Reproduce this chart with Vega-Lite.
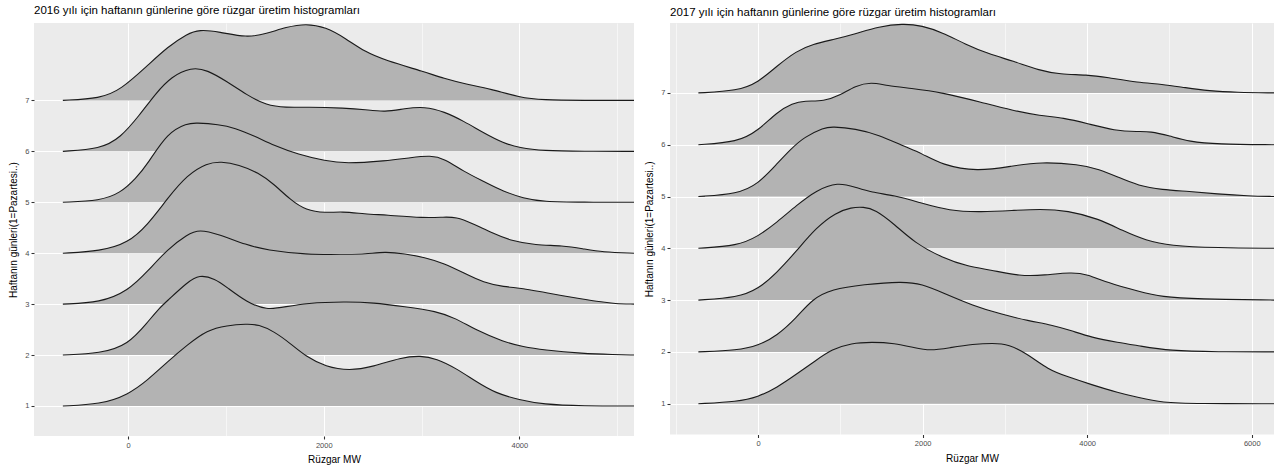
{
  "$schema": "https://vega.github.io/schema/vega-lite/v6.json",
  "padding": {"left": 8, "top": 4, "right": 0, "bottom": 0},
  "background": "white",
  "spacing": 10,
  "config": {
    "font": "Liberation Sans",
    "view": {"fill": "#EBEBEB", "stroke": null},
    "area": {"opacity": 1, "fillOpacity": 1},
    "axis": {"domain": false, "grid": true, "gridColor": "#FFFFFF", "gridWidth": 1.07, "tickColor": "#333333", "tickWidth": 1.07, "tickSize": 3, "labelColor": "#4D4D4D", "labelFontSize": 7.5, "labelPadding": 2, "titleColor": "#000000", "titleFontSize": 10, "titleFontWeight": "normal", "titlePadding": 6},
    "title": {"anchor": "start", "frame": "group", "fontSize": 11.5, "fontWeight": "normal", "color": "#000000"}
  },
  "datasets": {
    "y2016_7": [{"mw":-667,"y":7},{"mw":-283,"y":7.04},{"mw":-81,"y":7.2},{"mw":202,"y":7.69},{"mw":404,"y":8.05},{"mw":606,"y":8.31},{"mw":727,"y":8.39},{"mw":929,"y":8.35},{"mw":1212,"y":8.23},{"mw":1414,"y":8.31},{"mw":1616,"y":8.44},{"mw":1818,"y":8.51},{"mw":2020,"y":8.44},{"mw":2222,"y":8.22},{"mw":2424,"y":7.95},{"mw":2626,"y":7.79},{"mw":3030,"y":7.56},{"mw":3232,"y":7.43},{"mw":3434,"y":7.33},{"mw":3717,"y":7.22},{"mw":4000,"y":7.06},{"mw":4242,"y":7.007},{"mw":4646,"y":7},{"mw":5172,"y":7}],
    "y2016_6": [{"mw":-667,"y":6},{"mw":-283,"y":6.05},{"mw":-81,"y":6.26},{"mw":121,"y":6.72},{"mw":283,"y":7.14},{"mw":444,"y":7.47},{"mw":646,"y":7.65},{"mw":808,"y":7.6},{"mw":1010,"y":7.37},{"mw":1212,"y":7.11},{"mw":1414,"y":6.9},{"mw":1616,"y":6.86},{"mw":1818,"y":6.87},{"mw":2222,"y":6.85},{"mw":2424,"y":6.82},{"mw":2626,"y":6.77},{"mw":2828,"y":6.84},{"mw":3030,"y":6.88},{"mw":3232,"y":6.78},{"mw":3434,"y":6.59},{"mw":3636,"y":6.36},{"mw":3838,"y":6.16},{"mw":4000,"y":6.07},{"mw":4242,"y":6.01},{"mw":4646,"y":6},{"mw":5172,"y":6}],
    "y2016_5": [{"mw":-667,"y":5},{"mw":-283,"y":5.03},{"mw":-81,"y":5.18},{"mw":81,"y":5.47},{"mw":202,"y":5.76},{"mw":404,"y":6.37},{"mw":606,"y":6.55},{"mw":687,"y":6.56},{"mw":929,"y":6.53},{"mw":1091,"y":6.46},{"mw":1293,"y":6.3},{"mw":1495,"y":6.11},{"mw":1737,"y":5.94},{"mw":2020,"y":5.81},{"mw":2222,"y":5.76},{"mw":2626,"y":5.81},{"mw":2900,"y":5.88},{"mw":3091,"y":5.92},{"mw":3232,"y":5.86},{"mw":3434,"y":5.6},{"mw":3636,"y":5.41},{"mw":3838,"y":5.21},{"mw":4040,"y":5.08},{"mw":4242,"y":5.01},{"mw":4646,"y":5},{"mw":5172,"y":5}],
    "y2016_4": [{"mw":-667,"y":4},{"mw":-283,"y":4.04},{"mw":0,"y":4.2},{"mw":202,"y":4.56},{"mw":404,"y":5.08},{"mw":606,"y":5.54},{"mw":808,"y":5.77},{"mw":949,"y":5.8},{"mw":1131,"y":5.74},{"mw":1333,"y":5.58},{"mw":1495,"y":5.35},{"mw":1657,"y":5.05},{"mw":1818,"y":4.84},{"mw":2020,"y":4.79},{"mw":2182,"y":4.82},{"mw":2424,"y":4.77},{"mw":2626,"y":4.75},{"mw":3030,"y":4.69},{"mw":3232,"y":4.71},{"mw":3353,"y":4.71},{"mw":3515,"y":4.59},{"mw":3717,"y":4.4},{"mw":3919,"y":4.24},{"mw":4162,"y":4.16},{"mw":4444,"y":4.15},{"mw":4646,"y":4.09},{"mw":4848,"y":4.02},{"mw":5172,"y":4}],
    "y2016_3": [{"mw":-667,"y":3},{"mw":-283,"y":3.03},{"mw":0,"y":3.26},{"mw":202,"y":3.65},{"mw":404,"y":4.08},{"mw":606,"y":4.37},{"mw":727,"y":4.47},{"mw":929,"y":4.37},{"mw":1212,"y":4.16},{"mw":1414,"y":4.06},{"mw":1818,"y":3.97},{"mw":2222,"y":3.98},{"mw":2424,"y":3.98},{"mw":2626,"y":4.03},{"mw":2828,"y":3.99},{"mw":3030,"y":3.92},{"mw":3232,"y":3.8},{"mw":3434,"y":3.61},{"mw":3636,"y":3.42},{"mw":3838,"y":3.34},{"mw":4040,"y":3.31},{"mw":4242,"y":3.23},{"mw":4646,"y":3.1},{"mw":4848,"y":3.04},{"mw":4970,"y":3.01},{"mw":5172,"y":3}],
    "y2016_2": [{"mw":-667,"y":2},{"mw":-283,"y":2.03},{"mw":0,"y":2.2},{"mw":202,"y":2.65},{"mw":323,"y":2.93},{"mw":404,"y":3.07},{"mw":606,"y":3.43},{"mw":727,"y":3.58},{"mw":889,"y":3.5},{"mw":1010,"y":3.33},{"mw":1212,"y":3.04},{"mw":1414,"y":2.88},{"mw":1616,"y":2.95},{"mw":1818,"y":3.02},{"mw":2222,"y":3.05},{"mw":2505,"y":3.03},{"mw":2828,"y":2.95},{"mw":3152,"y":2.86},{"mw":3353,"y":2.72},{"mw":3556,"y":2.49},{"mw":3838,"y":2.26},{"mw":4040,"y":2.16},{"mw":4242,"y":2.1},{"mw":4646,"y":2.03},{"mw":4970,"y":2.01},{"mw":5172,"y":2}],
    "y2016_1": [{"mw":-667,"y":1},{"mw":-283,"y":1.03},{"mw":0,"y":1.22},{"mw":202,"y":1.51},{"mw":404,"y":1.87},{"mw":606,"y":2.2},{"mw":808,"y":2.49},{"mw":1010,"y":2.58},{"mw":1212,"y":2.61},{"mw":1333,"y":2.6},{"mw":1495,"y":2.46},{"mw":1657,"y":2.23},{"mw":1818,"y":1.97},{"mw":2020,"y":1.77},{"mw":2263,"y":1.69},{"mw":2505,"y":1.77},{"mw":2788,"y":1.95},{"mw":2990,"y":1.99},{"mw":3152,"y":1.93},{"mw":3353,"y":1.74},{"mw":3556,"y":1.48},{"mw":3758,"y":1.25},{"mw":4000,"y":1.12},{"mw":4242,"y":1.03},{"mw":4646,"y":1},{"mw":5172,"y":1}],
    "y2017_7": [{"mw":-725,"y":7},{"mw":-248,"y":7.04},{"mw":0,"y":7.2},{"mw":229,"y":7.52},{"mw":468,"y":7.81},{"mw":659,"y":7.94},{"mw":945,"y":8.04},{"mw":1184,"y":8.14},{"mw":1470,"y":8.28},{"mw":1756,"y":8.34},{"mw":1995,"y":8.3},{"mw":2234,"y":8.17},{"mw":2520,"y":7.94},{"mw":2806,"y":7.75},{"mw":3093,"y":7.62},{"mw":3427,"y":7.43},{"mw":3666,"y":7.36},{"mw":4000,"y":7.35},{"mw":4238,"y":7.3},{"mw":4620,"y":7.2},{"mw":4907,"y":7.17},{"mw":5193,"y":7.1},{"mw":5479,"y":7.04},{"mw":5813,"y":7.01},{"mw":6270,"y":7}],
    "y2017_6": [{"mw":-725,"y":6},{"mw":-248,"y":6.05},{"mw":0,"y":6.27},{"mw":229,"y":6.63},{"mw":420,"y":6.8},{"mw":563,"y":6.85},{"mw":802,"y":6.84},{"mw":993,"y":6.95},{"mw":1184,"y":7.14},{"mw":1375,"y":7.21},{"mw":1566,"y":7.14},{"mw":1852,"y":7.09},{"mw":2234,"y":7.01},{"mw":2711,"y":6.82},{"mw":3093,"y":6.66},{"mw":3427,"y":6.56},{"mw":3713,"y":6.52},{"mw":4000,"y":6.41},{"mw":4334,"y":6.27},{"mw":4620,"y":6.25},{"mw":4763,"y":6.26},{"mw":5002,"y":6.17},{"mw":5241,"y":6.06},{"mw":5575,"y":6.01},{"mw":6270,"y":6}],
    "y2017_5": [{"mw":-725,"y":5},{"mw":-248,"y":5.05},{"mw":0,"y":5.24},{"mw":229,"y":5.63},{"mw":400,"y":5.92},{"mw":563,"y":6.15},{"mw":802,"y":6.33},{"mw":897,"y":6.35},{"mw":1184,"y":6.31},{"mw":1470,"y":6.19},{"mw":1756,"y":5.98},{"mw":1995,"y":5.83},{"mw":2234,"y":5.61},{"mw":2664,"y":5.48},{"mw":3093,"y":5.59},{"mw":3427,"y":5.67},{"mw":3904,"y":5.62},{"mw":4143,"y":5.53},{"mw":4381,"y":5.37},{"mw":4620,"y":5.21},{"mw":4907,"y":5.13},{"mw":5241,"y":5.1},{"mw":5575,"y":5.05},{"mw":5957,"y":5.01},{"mw":6270,"y":5}],
    "y2017_4": [{"mw":-725,"y":4},{"mw":-248,"y":4.05},{"mw":0,"y":4.23},{"mw":229,"y":4.5},{"mw":468,"y":4.83},{"mw":707,"y":5.12},{"mw":969,"y":5.28},{"mw":1184,"y":5.18},{"mw":1375,"y":5.08},{"mw":1661,"y":5.02},{"mw":1947,"y":4.89},{"mw":2329,"y":4.72},{"mw":2711,"y":4.7},{"mw":3093,"y":4.73},{"mw":3427,"y":4.76},{"mw":3761,"y":4.73},{"mw":4143,"y":4.57},{"mw":4429,"y":4.34},{"mw":4715,"y":4.15},{"mw":5002,"y":4.05},{"mw":5575,"y":4.01},{"mw":6270,"y":4}],
    "y2017_3": [{"mw":-725,"y":3},{"mw":-248,"y":3.05},{"mw":0,"y":3.21},{"mw":229,"y":3.53},{"mw":468,"y":3.95},{"mw":707,"y":4.4},{"mw":945,"y":4.69},{"mw":1136,"y":4.79},{"mw":1279,"y":4.8},{"mw":1422,"y":4.75},{"mw":1661,"y":4.46},{"mw":1900,"y":4.11},{"mw":2234,"y":3.82},{"mw":2568,"y":3.64},{"mw":2806,"y":3.59},{"mw":3188,"y":3.46},{"mw":3475,"y":3.48},{"mw":3809,"y":3.54},{"mw":4000,"y":3.5},{"mw":4238,"y":3.34},{"mw":4620,"y":3.17},{"mw":4907,"y":3.06},{"mw":5336,"y":3.02},{"mw":6270,"y":3}],
    "y2017_2": [{"mw":-725,"y":2},{"mw":-248,"y":2.03},{"mw":0,"y":2.12},{"mw":229,"y":2.31},{"mw":468,"y":2.66},{"mw":659,"y":3.02},{"mw":897,"y":3.21},{"mw":1279,"y":3.3},{"mw":1756,"y":3.36},{"mw":1995,"y":3.31},{"mw":2234,"y":3.15},{"mw":2616,"y":2.89},{"mw":2950,"y":2.73},{"mw":3284,"y":2.6},{"mw":3570,"y":2.52},{"mw":3809,"y":2.41},{"mw":4047,"y":2.28},{"mw":4381,"y":2.18},{"mw":4620,"y":2.12},{"mw":5002,"y":2.02},{"mw":5575,"y":2},{"mw":6270,"y":2}],
    "y2017_1": [{"mw":-725,"y":1},{"mw":-248,"y":1.04},{"mw":0,"y":1.13},{"mw":229,"y":1.31},{"mw":468,"y":1.57},{"mw":707,"y":1.84},{"mw":897,"y":2.05},{"mw":1136,"y":2.17},{"mw":1375,"y":2.19},{"mw":1661,"y":2.17},{"mw":1900,"y":2.08},{"mw":2091,"y":2.02},{"mw":2329,"y":2.08},{"mw":2616,"y":2.15},{"mw":2854,"y":2.17},{"mw":3045,"y":2.15},{"mw":3284,"y":1.95},{"mw":3523,"y":1.66},{"mw":3761,"y":1.52},{"mw":4047,"y":1.37},{"mw":4381,"y":1.21},{"mw":4620,"y":1.12},{"mw":4907,"y":1.02},{"mw":5336,"y":1},{"mw":6270,"y":1}]
  },
  "hconcat": [
    {
      "width": 600,
      "height": 413,
      "title": {"text": "2016 yılı için haftanın günlerine göre rüzgar üretim histogramları", "offset": 7},
      "encoding": {
        "x": {"field": "mw", "type": "quantitative", "scale": {"domain": [-962, 5172], "nice": false, "zero": false},
              "axis": {"values": [0, 1000, 2000, 3000, 4000, 5000], "format": "d", "title": "Rüzgar MW",
                       "labelExpr": "datum.value % 2000 === 0 ? datum.label : ''",
                       "gridWidth": {"condition": {"test": "datum.value % 2000 === 0", "value": 1.07}, "value": 0.55},
                       "tickOpacity": {"condition": {"test": "datum.value % 2000 === 0", "value": 1}, "value": 0}}},
        "y": {"field": "y", "type": "quantitative", "scale": {"domain": [0.41, 8.52], "nice": false, "zero": false},
              "axis": {"values": [1, 2, 3, 4, 5, 6, 7], "format": "d", "title": "Haftanın günleri(1=Pazartesi..)"}}
      },
      "layer": [
        {"data": {"name": "y2016_7"}, "mark": {"type": "area", "interpolate": "basis", "fill": "#B3B3B3", "opacity": 1, "clip": true, "line": {"stroke": "#1A1A1A", "strokeWidth": 1.1}}, "encoding": {"y2": {"datum": 7}}},
        {"data": {"name": "y2016_6"}, "mark": {"type": "area", "interpolate": "basis", "fill": "#B3B3B3", "opacity": 1, "clip": true, "line": {"stroke": "#1A1A1A", "strokeWidth": 1.1}}, "encoding": {"y2": {"datum": 6}}},
        {"data": {"name": "y2016_5"}, "mark": {"type": "area", "interpolate": "basis", "fill": "#B3B3B3", "opacity": 1, "clip": true, "line": {"stroke": "#1A1A1A", "strokeWidth": 1.1}}, "encoding": {"y2": {"datum": 5}}},
        {"data": {"name": "y2016_4"}, "mark": {"type": "area", "interpolate": "basis", "fill": "#B3B3B3", "opacity": 1, "clip": true, "line": {"stroke": "#1A1A1A", "strokeWidth": 1.1}}, "encoding": {"y2": {"datum": 4}}},
        {"data": {"name": "y2016_3"}, "mark": {"type": "area", "interpolate": "basis", "fill": "#B3B3B3", "opacity": 1, "clip": true, "line": {"stroke": "#1A1A1A", "strokeWidth": 1.1}}, "encoding": {"y2": {"datum": 3}}},
        {"data": {"name": "y2016_2"}, "mark": {"type": "area", "interpolate": "basis", "fill": "#B3B3B3", "opacity": 1, "clip": true, "line": {"stroke": "#1A1A1A", "strokeWidth": 1.1}}, "encoding": {"y2": {"datum": 2}}},
        {"data": {"name": "y2016_1"}, "mark": {"type": "area", "interpolate": "basis", "fill": "#B3B3B3", "opacity": 1, "clip": true, "line": {"stroke": "#1A1A1A", "strokeWidth": 1.1}}, "encoding": {"y2": {"datum": 1}}}
      ]
    },
    {
      "width": 604,
      "height": 411.5,
      "title": {"text": "2017 yılı için haftanın günlerine göre rüzgar üretim histogramları", "offset": 4.5},
      "encoding": {
        "x": {"field": "mw", "type": "quantitative", "scale": {"domain": [-1070, 6270], "nice": false, "zero": false},
              "axis": {"values": [-1000, 0, 1000, 2000, 3000, 4000, 5000, 6000], "format": "d", "title": "Rüzgar MW",
                       "labelExpr": "datum.value % 2000 === 0 ? datum.label : ''",
                       "gridWidth": {"condition": {"test": "datum.value % 2000 === 0", "value": 1.07}, "value": 0.55},
                       "tickOpacity": {"condition": {"test": "datum.value % 2000 === 0", "value": 1}, "value": 0}}},
        "y": {"field": "y", "type": "quantitative", "scale": {"domain": [0.405, 8.35], "nice": false, "zero": false},
              "axis": {"values": [1, 2, 3, 4, 5, 6, 7], "format": "d", "title": "Haftanın günleri(1=Pazartesi..)"}}
      },
      "layer": [
        {"data": {"name": "y2017_7"}, "mark": {"type": "area", "interpolate": "basis", "fill": "#B3B3B3", "opacity": 1, "clip": true, "line": {"stroke": "#1A1A1A", "strokeWidth": 1.1}}, "encoding": {"y2": {"datum": 7}}},
        {"data": {"name": "y2017_6"}, "mark": {"type": "area", "interpolate": "basis", "fill": "#B3B3B3", "opacity": 1, "clip": true, "line": {"stroke": "#1A1A1A", "strokeWidth": 1.1}}, "encoding": {"y2": {"datum": 6}}},
        {"data": {"name": "y2017_5"}, "mark": {"type": "area", "interpolate": "basis", "fill": "#B3B3B3", "opacity": 1, "clip": true, "line": {"stroke": "#1A1A1A", "strokeWidth": 1.1}}, "encoding": {"y2": {"datum": 5}}},
        {"data": {"name": "y2017_4"}, "mark": {"type": "area", "interpolate": "basis", "fill": "#B3B3B3", "opacity": 1, "clip": true, "line": {"stroke": "#1A1A1A", "strokeWidth": 1.1}}, "encoding": {"y2": {"datum": 4}}},
        {"data": {"name": "y2017_3"}, "mark": {"type": "area", "interpolate": "basis", "fill": "#B3B3B3", "opacity": 1, "clip": true, "line": {"stroke": "#1A1A1A", "strokeWidth": 1.1}}, "encoding": {"y2": {"datum": 3}}},
        {"data": {"name": "y2017_2"}, "mark": {"type": "area", "interpolate": "basis", "fill": "#B3B3B3", "opacity": 1, "clip": true, "line": {"stroke": "#1A1A1A", "strokeWidth": 1.1}}, "encoding": {"y2": {"datum": 2}}},
        {"data": {"name": "y2017_1"}, "mark": {"type": "area", "interpolate": "basis", "fill": "#B3B3B3", "opacity": 1, "clip": true, "line": {"stroke": "#1A1A1A", "strokeWidth": 1.1}}, "encoding": {"y2": {"datum": 1}}}
      ]
    }
  ]
}
